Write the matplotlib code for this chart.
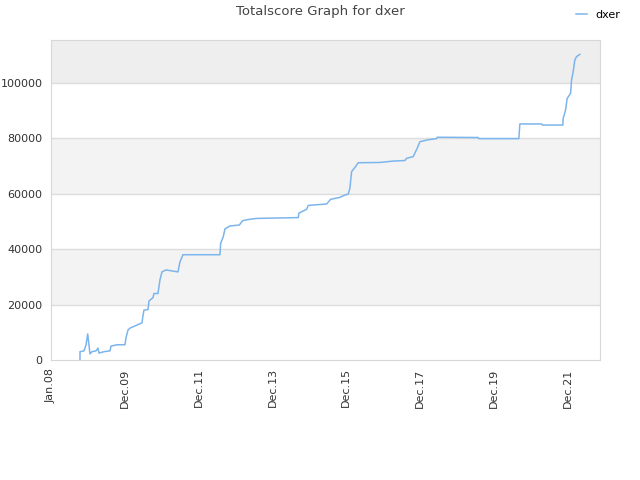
import matplotlib
matplotlib.use("Agg")
import matplotlib.pyplot as plt

# decimal years and total score
years = [2008.785, 2008.785, 2008.894, 2008.948, 2008.994, 2009.056, 2009.110, 2009.219, 2009.273,
         2009.300, 2009.435, 2009.598, 2009.625, 2009.787, 2010.004, 2010.031, 2010.085, 2010.139,
         2010.275, 2010.464, 2010.491, 2010.518, 2010.627, 2010.654, 2010.762, 2010.789, 2010.897,
         2010.952, 2011.006, 2011.114, 2011.439, 2011.493, 2011.574, 2012.576, 2012.595, 2012.666,
         2012.712, 2012.847, 2013.099, 2013.191, 2013.389, 2013.570, 2014.697, 2014.715, 2014.924,
         2014.967, 2015.465, 2015.574, 2015.825, 2015.934, 2016.050, 2016.096, 2016.142, 2016.232,
         2016.321, 2016.909, 2017.269, 2017.586, 2017.632, 2017.810, 2017.918, 2017.992, 2018.217,
         2018.444, 2018.460, 2019.570, 2019.589, 2020.672, 2020.699, 2021.287, 2021.314, 2021.864,
         2021.872, 2021.937, 2021.980, 2022.072, 2022.099, 2022.143, 2022.189, 2022.235, 2022.324]
scores = [0, 3000, 3300, 5400, 9400, 2200, 3000, 3300, 4300,
          2500, 3000, 3300, 5000, 5500, 5500, 8000, 10800, 11500,
          12300, 13400, 16000, 18000, 18200, 21300, 22500, 24000, 24000,
          29000, 31800, 32500, 31800, 35400, 38000, 38000, 42100, 44500,
          47300, 48400, 48700, 50300, 50800, 51100, 51400, 53000, 54400,
          55800, 56300, 58000, 58700, 59400, 59900, 62000, 68000, 69500,
          71200, 71300, 71800, 72000, 72800, 73400, 76400, 78800, 79500,
          79900, 80400, 80300, 79900, 79900, 85200, 85200, 84800, 84800,
          87200, 90200, 94400, 96200, 101000, 104000, 108300, 109500, 110300]

tick_pos = [2008, 2010, 2012, 2014, 2016, 2018, 2020, 2022]
tick_labels = ["Jan.08", "Dec.09", "Dec.11", "Dec.13", "Dec.15", "Dec.17", "Dec.19", "Dec.21"]
y_ticks = [0, 20000, 40000, 60000, 80000, 100000]

fig = plt.figure(figsize=(6.4, 4.8), dpi=100)
ax = fig.add_axes([51/640, 120/480, 549/640, 320/480])
ymax = 115500
ax.set_xlim(2008, 2022.87)
ax.set_ylim(0, ymax)

for lo, hi, c in [(20000, 40000, "#f3f3f3"), (60000, 80000, "#f3f3f3"), (100000, ymax, "#eeeeee")]:
    ax.axhspan(lo, hi, color=c, zorder=0, lw=0)
for y in y_ticks[1:]:
    ax.axhline(y, color="#dddddd", lw=1, zorder=1)

line, = ax.plot(years, scores, color="#7cb5ec", lw=1.1, zorder=3, label="dxer")

ax.set_xticks(tick_pos)
ax.set_xticklabels(tick_labels, rotation=90, fontsize=8, color="#333333")
ax.set_yticks(y_ticks)
ax.set_yticklabels([str(v) for v in y_ticks], fontsize=8, color="#333333")
ax.tick_params(length=0, pad=6)
for s in ax.spines.values():
    s.set_color("#d8d8d8")

fig.text(0.5, 1 - 12/480, "Totalscore Graph for dxer", ha="center", va="center", fontsize=9.5, color="#444444")
fig.legend(handles=[line], labels=["dxer"], loc="upper right", bbox_to_anchor=(0.985, 1.0),
           frameon=False, fontsize=8, handlelength=1.0, handletextpad=0.8)

fig.savefig("out.png", dpi=100)
